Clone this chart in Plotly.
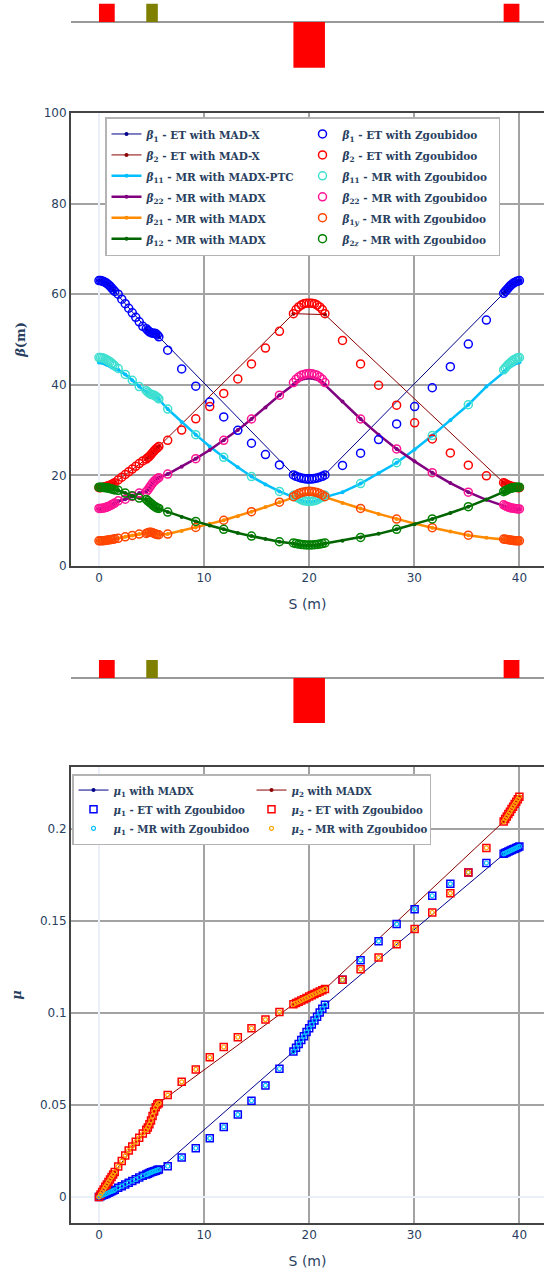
import plotly.graph_objects as go

# ---------------- lattice elements (layout strips) ----------------
ELEM_START = [0.0, 4.5, 18.5, 38.5]
ELEM_LENGTH = [1.5, 1.1, 3.0, 1.5]
ELEM_HEIGHT = [1.0, 1.0, -2.5, 1.0]
ELEM_COLOR = ["red", "olive", "red", "red"]

# ---------------- S positions (m) ----------------
S_A = [0.0, 0.15, 0.3, 0.45, 0.6, 0.75, 0.9, 1.05, 1.2, 1.35, 1.5]
S_D1 = [1.83, 2.17, 2.5, 2.83, 3.17, 3.5, 3.83, 4.17]
S_D1_MR = [1.83, 2.5, 3.17, 3.83]
S_B = [4.5, 4.65, 4.8, 4.95, 5.1, 5.25, 5.4, 5.55, 5.7]
S_D2 = [6.54, 7.87, 9.21, 10.54, 11.87, 13.21, 14.51, 15.84, 17.17]
S_D2_MR = [6.54, 9.21, 11.87, 14.51, 17.17]
S_C = [18.5, 18.75, 19.0, 19.25, 19.5, 19.75, 20.0, 20.25, 20.5, 20.75, 21.0, 21.25, 21.5]
S_C_ENDS = [18.5, 21.5]
S_D3 = [23.17, 24.89, 26.6, 28.32, 30.03, 31.71, 33.43, 35.14, 36.86]
S_D3_MR = [24.89, 28.32, 31.71, 35.14]
S_D = [38.5, 38.65, 38.8, 38.95, 39.1, 39.25, 39.4, 39.55, 39.7, 39.85, 40.0]

S_ZGB_ET = S_A + S_D1 + S_B + S_D2 + S_C + S_D3 + S_D
S_ZGB_MR = S_A + S_D1_MR + S_B + S_D2_MR + S_C + S_D3_MR + S_D
S_MADX_ET = S_A + S_B + S_C_ENDS + S_D
S_MR_LINE = S_A + S_D1 + S_B + S_D2 + S_C + S_D3 + S_D

# ---------------- beta functions: ET with MAD-X (lines) ----------------
BETA1_ET_MADX = [63.0, 63.0, 62.9, 62.8, 62.6, 62.4, 62.1, 61.8, 61.4, 61.0, 60.6,
                 52.4, 52.0, 51.7, 51.5, 51.4, 51.4, 51.3, 51.0, 50.6,
                 20.2, 20.2,
                 60.2, 60.6, 61.0, 61.4, 61.8, 62.1, 62.4, 62.6, 62.8, 62.9, 63.0]
BETA2_ET_MADX = [17.3, 17.3, 17.35, 17.4, 17.5, 17.6, 17.7, 17.85, 18.0, 18.2, 18.4,
                 23.6, 23.9, 24.2, 24.6, 25.0, 25.4, 25.8, 26.1, 26.4,
                 55.7, 55.5,
                 18.4, 18.2, 18.0, 17.85, 17.7, 17.6, 17.5, 17.4, 17.35, 17.3, 17.3]

# ---------------- beta functions: ET with Zgoubidoo (circles) ----------------
BETA1_ET_ZGB = [63.0, 63.0, 62.9, 62.8, 62.6, 62.4, 62.1, 61.8, 61.4, 61.0, 60.6,
                60.0, 58.9, 57.9, 56.9, 55.9, 54.9, 53.9, 52.9,
                52.4, 52.0, 51.7, 51.5, 51.4, 51.4, 51.3, 51.0, 50.6,
                47.65, 43.5, 39.7, 36.2, 32.9, 29.96, 27.1, 24.6, 22.3,
                20.1, 19.8, 19.6, 19.4, 19.3, 19.2, 19.2, 19.2, 19.3, 19.4, 19.6, 19.8, 20.1,
                22.2, 24.9, 27.9, 31.35, 35.2, 39.35, 44.0, 49.0, 54.3,
                60.2, 60.6, 61.0, 61.4, 61.8, 62.1, 62.4, 62.6, 62.8, 62.9, 63.0]
BETA2_ET_ZGB = [17.3, 17.3, 17.35, 17.4, 17.5, 17.6, 17.7, 17.85, 18.0, 18.2, 18.4,
                19.0, 19.6, 20.2, 20.8, 21.4, 22.0, 22.6, 23.2,
                23.6, 23.9, 24.2, 24.6, 25.0, 25.4, 25.8, 26.1, 26.4,
                27.75, 30.0, 32.5, 35.2, 38.1, 41.3, 44.6, 48.1, 51.8,
                55.7, 56.6, 57.2, 57.6, 57.9, 58.0, 58.0, 58.0, 57.9, 57.6, 57.2, 56.6, 55.7,
                49.8, 44.6, 39.9, 35.5, 31.6, 28.05, 24.95, 22.25, 19.9,
                18.4, 18.2, 18.0, 17.85, 17.7, 17.6, 17.5, 17.4, 17.35, 17.3, 17.3]

# ---------------- beta functions: MR with MADX / PTC (lines) ----------------
BETA11_MR_PTC = [44.9, 44.9, 44.85, 44.75, 44.6, 44.45, 44.3, 44.1, 43.9, 43.7, 43.5,
                 43.3, 42.8, 42.3, 41.7, 41.0, 40.3, 39.6, 38.9,
                 38.5, 38.2, 38.0, 37.8, 37.7, 37.6, 37.4, 37.1, 36.8,
                 34.65, 31.8, 29.0, 26.4, 24.0, 21.8, 19.75, 18.0, 16.45,
                 15.2, 14.9, 14.6, 14.4, 14.2, 14.1, 14.05, 14.1, 14.2, 14.4, 14.6, 14.9, 15.2,
                 16.3, 18.2, 20.5, 22.8, 25.7, 28.8, 32.2, 35.6, 39.6,
                 42.8, 43.1, 43.4, 43.7, 44.0, 44.2, 44.45, 44.65, 44.8, 44.95, 45.0]
BETA22_MR_MADX = [12.6, 12.6, 12.65, 12.7, 12.8, 12.9, 13.05, 13.2, 13.4, 13.6, 13.8,
                  14.3, 14.5, 14.75, 15.0, 15.35, 15.7, 16.1, 16.3,
                  16.4, 16.8, 17.3, 17.8, 18.3, 18.7, 19.0, 19.3, 19.5,
                  20.3, 21.9, 23.7, 25.6, 27.75, 30.0, 32.45, 35.0, 37.7,
                  40.0, 40.5, 40.9, 41.2, 41.4, 41.5, 41.55, 41.5, 41.4, 41.2, 40.9, 40.5, 40.0,
                  36.3, 32.45, 29.0, 25.85, 23.1, 20.6, 18.3, 16.3, 14.6,
                  13.2, 13.05, 12.95, 12.85, 12.75, 12.7, 12.65, 12.6, 12.6, 12.55, 12.55]
BETA21_MR_MADX = [5.5, 5.5, 5.55, 5.55, 5.6, 5.65, 5.7, 5.75, 5.8, 5.85, 5.95,
                  6.1, 6.3, 6.45, 6.6, 6.75, 6.9, 7.05, 7.15,
                  7.2, 7.35, 7.45, 7.45, 7.35, 7.2, 7.05, 6.95, 6.9,
                  7.05, 7.75, 8.5, 9.3, 10.1, 11.0, 12.0, 13.0, 14.1,
                  15.2, 15.4, 15.55, 15.7, 15.8, 15.85, 15.9, 15.85, 15.8, 15.7, 15.55, 15.4, 15.2,
                  13.9, 12.7, 11.5, 10.35, 9.35, 8.45, 7.6, 6.8, 6.25,
                  5.9, 5.85, 5.8, 5.75, 5.7, 5.65, 5.6, 5.55, 5.55, 5.5, 5.5]
BETA12_MR_MADX = [17.5, 17.5, 17.5, 17.45, 17.4, 17.35, 17.3, 17.2, 17.1, 17.0, 16.9,
                  16.7, 16.4, 16.1, 15.8, 15.5, 15.25, 15.0, 14.8,
                  14.6, 14.3, 14.0, 13.7, 13.4, 13.1, 12.9, 12.7, 12.6,
                  11.9, 10.8, 9.85, 8.95, 8.1, 7.3, 6.6, 5.95, 5.35,
                  4.95, 4.8, 4.7, 4.6, 4.55, 4.5, 4.5, 4.5, 4.55, 4.6, 4.7, 4.8, 4.95,
                  5.6, 6.3, 7.1, 8.1, 9.2, 10.4, 11.7, 13.1, 14.7,
                  16.3, 16.5, 16.7, 16.9, 17.05, 17.2, 17.3, 17.4, 17.45, 17.5, 17.5]

# ---------------- beta functions: MR with Zgoubidoo (circles) ----------------
BETA11_MR_ZGB = [46.0, 46.0, 45.95, 45.85, 45.7, 45.5, 45.3, 45.1, 44.8, 44.5, 44.2,
                 43.6, 42.3, 41.0, 39.6,
                 38.7, 38.4, 38.1, 37.9, 37.8, 37.7, 37.5, 37.2, 36.9,
                 34.65, 29.0, 24.0, 19.75, 16.45,
                 15.6, 15.2, 14.9, 14.6, 14.4, 14.3, 14.25, 14.3, 14.4, 14.6, 14.9, 15.2, 15.6,
                 18.2, 22.8, 28.8, 35.6,
                 43.3, 43.7, 44.1, 44.5, 44.8, 45.1, 45.4, 45.6, 45.8, 45.95, 46.0]
BETA22_MR_ZGB = [12.7, 12.7, 12.75, 12.8, 12.9, 13.0, 13.15, 13.3, 13.5, 13.7, 13.9,
                 14.4, 14.75, 15.35, 16.1,
                 16.4, 16.8, 17.3, 17.8, 18.3, 18.7, 19.0, 19.3, 19.5,
                 20.3, 23.7, 27.75, 32.45, 37.7,
                 40.5, 41.2, 41.7, 42.1, 42.3, 42.45, 42.5, 42.45, 42.3, 42.1, 41.7, 41.2, 40.5,
                 32.45, 25.85, 20.6, 16.3,
                 13.5, 13.3, 13.15, 13.0, 12.9, 12.8, 12.75, 12.7, 12.65, 12.6, 12.6]
BETA1Y_MR_ZGB = [5.55, 5.55, 5.6, 5.6, 5.65, 5.7, 5.75, 5.8, 5.85, 5.9, 6.0,
                 6.1, 6.45, 6.75, 7.05,
                 7.2, 7.35, 7.45, 7.45, 7.35, 7.2, 7.05, 6.95, 6.9,
                 7.05, 8.5, 10.1, 12.0, 14.1,
                 15.3, 15.7, 16.0, 16.2, 16.35, 16.45, 16.5, 16.45, 16.35, 16.2, 16.0, 15.7, 15.3,
                 12.7, 10.35, 8.45, 6.8,
                 5.95, 5.9, 5.85, 5.8, 5.75, 5.7, 5.65, 5.6, 5.6, 5.55, 5.55]
BETA2Z_MR_ZGB = [17.4, 17.4, 17.4, 17.35, 17.3, 17.25, 17.2, 17.1, 17.0, 16.9, 16.8,
                 16.7, 16.1, 15.5, 15.0,
                 14.7, 14.4, 14.1, 13.8, 13.5, 13.2, 13.0, 12.8, 12.7,
                 11.9, 9.85, 8.1, 6.6, 5.35,
                 5.1, 4.95, 4.85, 4.75, 4.7, 4.65, 4.65, 4.65, 4.7, 4.75, 4.85, 4.95, 5.1,
                 6.3, 8.1, 10.4, 13.1,
                 16.4, 16.6, 16.8, 16.95, 17.1, 17.2, 17.3, 17.35, 17.4, 17.4, 17.4]

# ---------------- phase advance ----------------
MU1_MADX = [0.0, 0.0004, 0.0008, 0.0012, 0.0015, 0.0019, 0.0023, 0.0027, 0.0031, 0.0035, 0.0039,
            0.0122, 0.0126, 0.0130, 0.0134, 0.0137, 0.0140, 0.0143, 0.0146, 0.0149,
            0.0790, 0.1044,
            0.1865, 0.1869, 0.1873, 0.1877, 0.1881, 0.1885, 0.1889, 0.1893, 0.1897, 0.1901, 0.1905]
MU2_MADX = [0.0, 0.0014, 0.0027, 0.0041, 0.0055, 0.0068, 0.0082, 0.0095, 0.0109, 0.0122, 0.0136,
            0.0365, 0.0378, 0.0395, 0.0415, 0.0440, 0.0465, 0.0487, 0.0502, 0.0510,
            0.1047, 0.1130,
            0.2040, 0.2054, 0.2067, 0.2081, 0.2094, 0.2108, 0.2121, 0.2135, 0.2148, 0.2162, 0.2175]
MU1_ET_ZGB = [0.0, 0.0004, 0.0008, 0.0012, 0.0015, 0.0019, 0.0023, 0.0027, 0.0031, 0.0035, 0.0039,
              0.0050, 0.0059, 0.0068, 0.0078, 0.0087, 0.0096, 0.0106, 0.0115,
              0.0122, 0.0126, 0.0130, 0.0134, 0.0137, 0.0140, 0.0143, 0.0146, 0.0149,
              0.0167, 0.0214, 0.0265, 0.0319, 0.0381, 0.0448, 0.0523, 0.0606, 0.0697,
              0.0790, 0.0811, 0.0832, 0.0853, 0.0874, 0.0896, 0.0917, 0.0938, 0.0959, 0.0980, 0.1002, 0.1023, 0.1044,
              0.1180, 0.1287, 0.1390, 0.1483, 0.1564, 0.1637, 0.1702, 0.1764, 0.1815,
              0.1865, 0.1869, 0.1873, 0.1877, 0.1881, 0.1885, 0.1889, 0.1893, 0.1897, 0.1901, 0.1905]
MU2_ET_ZGB = [0.0, 0.0014, 0.0027, 0.0041, 0.0055, 0.0068, 0.0082, 0.0095, 0.0109, 0.0122, 0.0136,
              0.0166, 0.0195, 0.0225, 0.0252, 0.0275, 0.0300, 0.0322, 0.0345,
              0.0365, 0.0378, 0.0395, 0.0415, 0.0440, 0.0465, 0.0487, 0.0502, 0.0510,
              0.0554, 0.0626, 0.0693, 0.0759, 0.0815, 0.0868, 0.0917, 0.0964, 0.1005,
              0.1047, 0.1054, 0.1061, 0.1068, 0.1075, 0.1082, 0.1089, 0.1096, 0.1103, 0.1110, 0.1116, 0.1123, 0.1130,
              0.1180, 0.1238, 0.1301, 0.1374, 0.1456, 0.1546, 0.1650, 0.1764, 0.1897,
              0.2040, 0.2054, 0.2067, 0.2081, 0.2094, 0.2108, 0.2121, 0.2135, 0.2148, 0.2162, 0.2175]
# MR Zgoubidoo phase advances coincide with the ET ones on the picture
MU1_MR_ZGB = MU1_ET_ZGB
MU2_MR_ZGB = MU2_ET_ZGB

# ---------------- styling ----------------
X_RANGE = [-2.66, 42.34]
GRID = "#a3a3a3"
AXLINE = "#444444"
TXT = "#2a3f5f"
SERIF = "DejaVu Serif"


def lab(txt, size):
    return "<span style='font-size:%spx'><b>%s</b></span>" % (size, txt)


fig = go.Figure()

# layout strips
for xa, ya in (("x", "y"), ("x3", "y3")):
    fig.add_trace(go.Bar(x=ELEM_START, y=ELEM_HEIGHT, width=ELEM_LENGTH, offset=0, base=0,
                         marker=dict(color=ELEM_COLOR, line=dict(width=0)),
                         xaxis=xa, yaxis=ya, showlegend=False, hoverinfo="skip"))


def line_tr(x, y, name, color, width, rank, legend, xa, ya):
    return go.Scatter(x=x, y=y, name=name, mode="lines+markers",
                      line=dict(color=color, width=width),
                      marker=dict(color=color, size=4),
                      legendrank=rank, legend=legend, xaxis=xa, yaxis=ya)


def mark_tr(x, y, name, color, symbol, size, lw, rank, legend, xa, ya):
    return go.Scatter(x=x, y=y, name=name, mode="markers",
                      marker=dict(color=color, symbol=symbol, size=size, line=dict(width=lw, color=color)),
                      legendrank=rank, legend=legend, xaxis=xa, yaxis=ya)


F1 = 10.5
L = "legend"
# beta lines
fig.add_trace(line_tr(S_MADX_ET, BETA1_ET_MADX, lab("<i>β</i><sub>1</sub> - ET with MAD-X", F1), "darkblue", 1, 1, L, "x2", "y2"))
fig.add_trace(line_tr(S_MADX_ET, BETA2_ET_MADX, lab("<i>β</i><sub>2</sub> - ET with MAD-X", F1), "darkred", 1, 3, L, "x2", "y2"))
fig.add_trace(line_tr(S_MR_LINE, BETA11_MR_PTC, lab("<i>β</i><sub>11</sub> - MR with MADX-PTC", F1), "deepskyblue", 2.5, 5, L, "x2", "y2"))
fig.add_trace(line_tr(S_MR_LINE, BETA22_MR_MADX, lab("<i>β</i><sub>22</sub> - MR with MADX", F1), "purple", 2.5, 7, L, "x2", "y2"))
fig.add_trace(line_tr(S_MR_LINE, BETA21_MR_MADX, lab("<i>β</i><sub>21</sub> - MR with MADX", F1), "darkorange", 2.5, 9, L, "x2", "y2"))
fig.add_trace(line_tr(S_MR_LINE, BETA12_MR_MADX, lab("<i>β</i><sub>12</sub> - MR with MADX", F1), "darkgreen", 2.5, 11, L, "x2", "y2"))
# beta circles
fig.add_trace(mark_tr(S_ZGB_ET, BETA1_ET_ZGB, lab("<i>β</i><sub>1</sub> - ET with Zgoubidoo", F1), "blue", "circle-open", 8, 1.5, 2, L, "x2", "y2"))
fig.add_trace(mark_tr(S_ZGB_ET, BETA2_ET_ZGB, lab("<i>β</i><sub>2</sub> - ET with Zgoubidoo", F1), "red", "circle-open", 8, 1.5, 4, L, "x2", "y2"))
fig.add_trace(mark_tr(S_ZGB_MR, BETA11_MR_ZGB, lab("<i>β</i><sub>11</sub> - MR with Zgoubidoo", F1), "turquoise", "circle-open", 8, 1.5, 6, L, "x2", "y2"))
fig.add_trace(mark_tr(S_ZGB_MR, BETA22_MR_ZGB, lab("<i>β</i><sub>22</sub> - MR with Zgoubidoo", F1), "deeppink", "circle-open", 8, 1.5, 8, L, "x2", "y2"))
fig.add_trace(mark_tr(S_ZGB_MR, BETA1Y_MR_ZGB, lab("<i>β</i><sub>1<i>y</i></sub> - MR with Zgoubidoo", F1), "orangered", "circle-open", 8, 1.5, 10, L, "x2", "y2"))
fig.add_trace(mark_tr(S_ZGB_MR, BETA2Z_MR_ZGB, lab("<i>β</i><sub>2<i>z</i></sub> - MR with Zgoubidoo", F1), "green", "circle-open", 8, 1.5, 12, L, "x2", "y2"))

F2 = 10.2
L2 = "legend2"
fig.add_trace(line_tr(S_MADX_ET, MU1_MADX, lab("<i>μ</i><sub>1</sub> with MADX", F2), "darkblue", 1, 1, L2, "x4", "y4"))
fig.add_trace(line_tr(S_MADX_ET, MU2_MADX, lab("<i>μ</i><sub>2</sub> with MADX", F2), "darkred", 1, 2, L2, "x4", "y4"))
fig.add_trace(mark_tr(S_ZGB_ET, MU1_ET_ZGB, lab("<i>μ</i><sub>1</sub> - ET with Zgoubidoo", F2), "blue", "square-open", 7, 1.5, 3, L2, "x4", "y4"))
fig.add_trace(mark_tr(S_ZGB_ET, MU2_ET_ZGB, lab("<i>μ</i><sub>2</sub> - ET with Zgoubidoo", F2), "red", "square-open", 7, 1.5, 4, L2, "x4", "y4"))
fig.add_trace(mark_tr(S_ZGB_ET, MU1_MR_ZGB, lab("<i>μ</i><sub>1</sub> - MR with Zgoubidoo", F2), "deepskyblue", "circle-open", 4, 1.2, 5, L2, "x4", "y4"))
fig.add_trace(mark_tr(S_ZGB_ET, MU2_MR_ZGB, lab("<i>μ</i><sub>2</sub> - MR with Zgoubidoo", F2), "orange", "circle-open", 4, 1.2, 6, L2, "x4", "y4"))

H = 1274.0


def dom(top_px, bot_px):
    return [1 - bot_px / H, 1 - top_px / H]


strip_x = dict(range=X_RANGE, showgrid=False, zeroline=False, showticklabels=False,
               showline=False, ticks="", automargin=False)
strip_y = dict(range=[-2.6, 1.2], showgrid=False, zeroline=True, zerolinecolor="#999999",
               zerolinewidth=2, showticklabels=False, showline=False, ticks="", automargin=False)
main_x = dict(range=X_RANGE, dtick=10, tick0=0, showgrid=True, gridcolor=GRID, gridwidth=1.5,
              zeroline=True, zerolinecolor="#EBF0F8", zerolinewidth=2,
              showline=True, mirror=True, linecolor=AXLINE, linewidth=2, ticks="",
              tickfont=dict(family="DejaVu Sans", size=12, color=TXT),
              title=dict(text="S (m)", font=dict(family="DejaVu Sans", size=14, color=TXT)),
              automargin=False)
main_y = dict(showgrid=True, gridcolor=GRID, gridwidth=1.5,
              showline=True, mirror=False, linecolor=AXLINE, linewidth=2, ticks="",
              tickfont=dict(family="DejaVu Sans", size=12, color=TXT), automargin=False)

legend_common = dict(xanchor="left", yanchor="top", orientation="h", entrywidthmode="pixels",
                     bgcolor="white", bordercolor="#b4b4b4", borderwidth=1.5, traceorder="normal")

fig.update_layout(
    template="plotly_white",
    width=544, height=1274,
    margin=dict(l=71, r=0, t=0, b=0),
    font=dict(family="DejaVu Sans", size=12, color=TXT),
    plot_bgcolor="white", paper_bgcolor="white",
    barmode="overlay",
    xaxis=dict(strip_x, domain=[0, 1], anchor="y"),
    yaxis=dict(strip_y, domain=dom(0.1, 69.5), anchor="x"),
    xaxis2=dict(main_x, domain=[0, 1], anchor="y2"),
    yaxis2=dict(main_y, domain=dom(113, 566), anchor="x2", range=[0, 100], dtick=20, zeroline=False,
                title=dict(text="<b><i>β</i>(m)</b>", font=dict(family=SERIF, size=13, color=TXT))),
    xaxis3=dict(strip_x, domain=[0, 1], anchor="y3"),
    yaxis3=dict(strip_y, domain=dom(656.4, 724.8), anchor="x3"),
    xaxis4=dict(main_x, domain=[0, 1], anchor="y4"),
    yaxis4=dict(main_y, domain=dom(767.3, 1222.7), anchor="x4", range=[-0.01397, 0.2335], dtick=0.05,
                zeroline=True, zerolinecolor="#EBF0F8", zerolinewidth=1.5,
                title=dict(text="<b><i>μ</i></b>", font=dict(family=SERIF, size=13, color=TXT))),
    legend=dict(legend_common, x=(105 - 71) / 473.0, y=1 - 117 / H, entrywidth=151,
                font=dict(family=SERIF, size=13.8, color=TXT)),
    legend2=dict(legend_common, x=(72 - 71) / 473.0, y=1 - 774 / H, entrywidth=133,
                 font=dict(family=SERIF, size=12.4, color=TXT)),
)

fig.write_html("out.html", config={"displayModeBar": False},
               post_script="document.body.style.margin='0px';document.body.style.overflow='hidden';")
